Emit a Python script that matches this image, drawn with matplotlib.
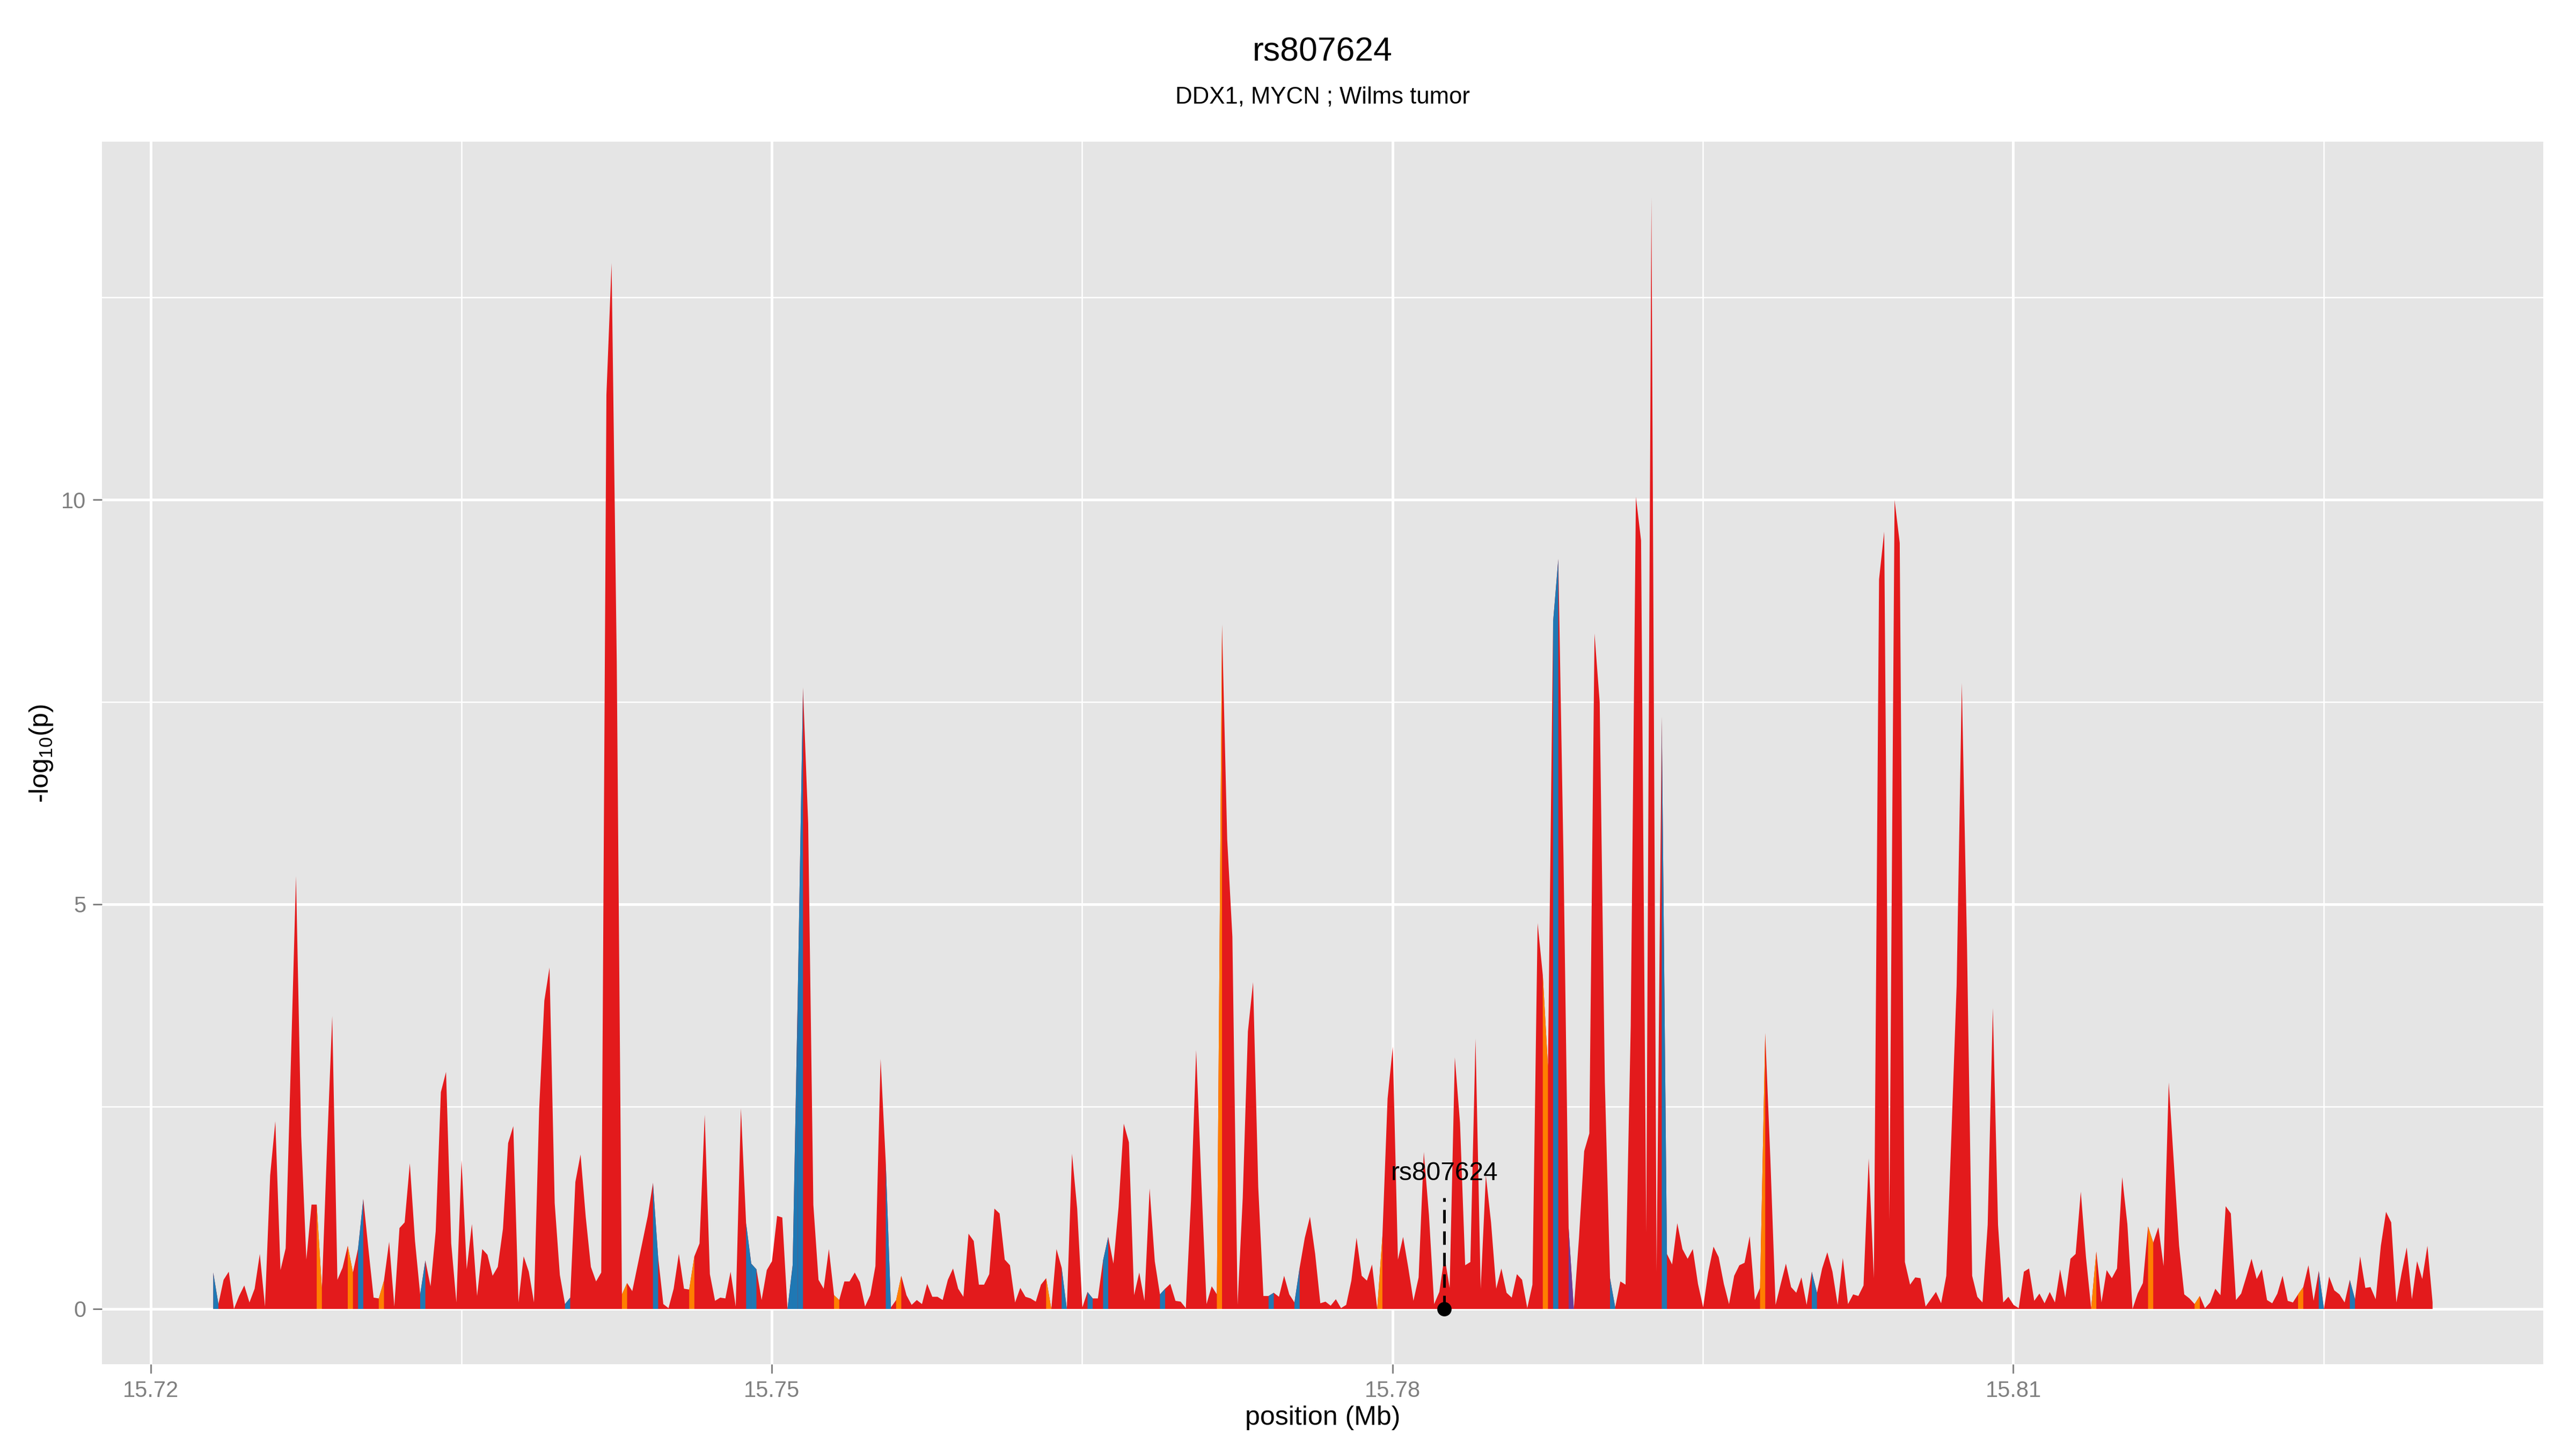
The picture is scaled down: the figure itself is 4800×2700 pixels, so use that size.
import numpy as np
import matplotlib
matplotlib.use("Agg")
import matplotlib.pyplot as plt

plt.rcParams['font.family'] = ['Liberation Sans', 'DejaVu Sans']
plt.rcParams['mathtext.fontset'] = 'custom'
plt.rcParams['mathtext.rm'] = 'Liberation Sans'

# SNPs sit on a regular 250 bp grid from 15,723,000 to 15,830,250
snp_start_bp = 15723000
snp_step_bp = 250
neg_log_p = [
    0.45, 0.06, 0.36, 0.46, 0.00, 0.16, 0.29, 0.08, 0.25, 0.68,
    0.03, 1.65, 2.32, 0.48, 0.75, 3.04, 5.35, 2.14, 0.61, 1.29,
    1.29, 0.25, 2.00, 3.62, 0.36, 0.51, 0.78, 0.45, 0.75, 1.36,
    0.74, 0.14, 0.13, 0.35, 0.83, 0.03, 1.00, 1.07, 1.80, 0.84,
    0.18, 0.60, 0.28, 0.96, 2.68, 2.93, 0.81, 0.08, 1.84, 0.49,
    1.05, 0.16, 0.74, 0.67, 0.41, 0.52, 0.99, 2.05, 2.26, 0.08,
    0.65, 0.46, 0.08, 2.47, 3.81, 4.22, 1.31, 0.42, 0.06, 0.14,
    1.57, 1.91, 1.14, 0.52, 0.34, 0.45, 11.30, 12.93, 8.00, 0.18,
    0.32, 0.22, 0.53, 0.84, 1.15, 1.56, 0.64, 0.06, 0.01, 0.25,
    0.68, 0.25, 0.24, 0.65, 0.81, 2.40, 0.43, 0.10, 0.14, 0.13,
    0.46, 0.03, 2.48, 1.06, 0.56, 0.49, 0.11, 0.48, 0.59, 1.15,
    1.13, 0.00, 0.54, 3.93, 7.68, 6.00, 1.29, 0.36, 0.25, 0.74,
    0.17, 0.11, 0.34, 0.34, 0.45, 0.33, 0.03, 0.17, 0.53, 3.09,
    1.81, 0.02, 0.11, 0.41, 0.17, 0.05, 0.11, 0.06, 0.31, 0.15,
    0.15, 0.11, 0.36, 0.50, 0.25, 0.15, 0.93, 0.84, 0.30, 0.30,
    0.43, 1.24, 1.18, 0.61, 0.54, 0.08, 0.26, 0.15, 0.13, 0.09,
    0.30, 0.38, 0.00, 0.74, 0.51, 0.00, 1.92, 1.24, 0.02, 0.21,
    0.13, 0.13, 0.60, 0.89, 0.56, 1.26, 2.29, 2.06, 0.17, 0.45,
    0.10, 1.49, 0.59, 0.18, 0.25, 0.31, 0.10, 0.09, 0.01, 1.34,
    3.20, 1.57, 0.06, 0.28, 0.18, 8.46, 5.80, 4.60, 0.05, 1.37,
    3.43, 4.04, 1.51, 0.16, 0.16, 0.20, 0.15, 0.41, 0.18, 0.08,
    0.51, 0.88, 1.14, 0.68, 0.07, 0.09, 0.04, 0.12, 0.01, 0.05,
    0.35, 0.88, 0.41, 0.35, 0.55, 0.00, 0.90, 2.60, 3.24, 0.61,
    0.89, 0.51, 0.10, 0.39, 1.94, 1.16, 0.06, 0.21, 0.65, 0.26,
    3.11, 2.30, 0.54, 0.58, 3.34, 0.25, 1.65, 1.07, 0.25, 0.50,
    0.20, 0.14, 0.43, 0.36, 0.01, 0.30, 4.77, 4.13, 3.00, 8.50,
    9.27, 5.60, 1.00, 0.00, 0.88, 1.95, 2.17, 8.35, 7.50, 2.80,
    0.38, 0.02, 0.34, 0.30, 3.50, 10.04, 9.50, 0.94, 13.74, 0.46,
    7.32, 0.68, 0.55, 1.06, 0.74, 0.62, 0.74, 0.31, 0.02, 0.46,
    0.77, 0.64, 0.31, 0.06, 0.41, 0.54, 0.57, 0.90, 0.11, 0.26,
    3.41, 1.84, 0.05, 0.31, 0.56, 0.27, 0.20, 0.39, 0.05, 0.46,
    0.20, 0.50, 0.70, 0.46, 0.05, 0.63, 0.06, 0.18, 0.16, 0.29,
    1.86, 0.38, 9.02, 9.61, 1.10, 10.00, 9.47, 0.58, 0.30, 0.39,
    0.38, 0.03, 0.12, 0.21, 0.07, 0.41, 2.17, 4.00, 7.74, 4.50,
    0.41, 0.15, 0.08, 1.04, 3.72, 1.04, 0.08, 0.15, 0.05, 0.01,
    0.46, 0.50, 0.10, 0.19, 0.07, 0.21, 0.08, 0.49, 0.14, 0.62,
    0.68, 1.45, 0.64, 0.01, 0.71, 0.08, 0.48, 0.38, 0.50, 1.63,
    1.05, 0.00, 0.19, 0.32, 1.02, 0.82, 1.01, 0.53, 2.80, 1.79,
    0.78, 0.18, 0.13, 0.06, 0.16, 0.01, 0.08, 0.25, 0.17, 1.27,
    1.18, 0.11, 0.19, 0.40, 0.62, 0.37, 0.49, 0.11, 0.07, 0.19,
    0.41, 0.10, 0.08, 0.18, 0.27, 0.54, 0.10, 0.47, 0.00, 0.40,
    0.23, 0.18, 0.08, 0.36, 0.12, 0.65, 0.26, 0.27, 0.12, 0.78,
    1.20, 1.07, 0.08, 0.44, 0.76, 0.12, 0.59, 0.37, 0.78, 0.08,
]

# segments (snp i -> snp i+1) that are not drawn in the default red
blue_segments = [0, 28, 40, 68, 85, 103, 104, 111, 112, 113, 130, 164, 169, 172,
                 183, 204, 209, 259, 270, 280, 309, 407, 413]
orange_segments = [20, 26, 32, 79, 92, 120, 132, 161, 194, 225, 257, 299, 363,
                   374, 383, 403]
purple_segments = [262]

lead_snp = 'rs807624'
lead_index = 238
title = 'rs807624'
subtitle = 'DDX1, MYCN ; Wilms tumor'
x_ticks = [15.72, 15.75, 15.78, 15.81]
y_ticks = [0, 5, 10]

RED = '#E31A1C'
BLUE = '#1F78B4'
ORANGE = '#FF7F00'
PURPLE = '#6A3D9A'
GREY = '#7F7F7F'

y = np.array(neg_log_p)
pos = (snp_start_bp + snp_step_bp * np.arange(len(y))) / 1e6

fig = plt.figure(figsize=(16, 9), dpi=300)
ax = fig.add_axes([0.0396, 0.0585, 0.9477, 0.8437])
ax.set_facecolor('#E5E5E5')
for s in ax.spines.values():
    s.set_visible(False)

# grid (ggplot2 grey theme)
for v in [15.735, 15.765, 15.795, 15.825]:
    ax.axvline(v, color='white', lw=0.6, zorder=0)
for v in [2.5, 7.5, 12.5]:
    ax.axhline(v, color='white', lw=0.6, zorder=0)
for v in x_ticks:
    ax.axvline(v, color='white', lw=1.2, zorder=0)
for v in y_ticks:
    ax.axhline(v, color='white', lw=1.2, zorder=0)

ax.fill_between(pos, y, 0, color=RED, lw=0, zorder=2)
for segs, col in [(blue_segments, BLUE), (orange_segments, ORANGE), (purple_segments, PURPLE)]:
    for i in segs:
        ax.fill_between(pos[i:i + 2], y[i:i + 2], 0, color=col, lw=0, zorder=3)

# lead SNP marker
lx = pos[lead_index]
ax.plot([lx, lx], [0, 1.37], color='black', lw=1.2, ls=(0, (5, 3)), zorder=4)
ax.plot([lx], [0], 'o', color='black', ms=5.4, zorder=5)
ax.text(lx, 1.59, lead_snp, ha='center', va='baseline', fontsize=11.5, zorder=6)

span = pos[-1] - pos[0]
ax.set_xlim(pos[0] - 0.05 * span, pos[-1] + 0.05 * span)
ax.set_ylim(-0.05 * y.max(), 1.05 * y.max())
ax.set_xticks(x_ticks)
ax.set_xticklabels(['%.2f' % v for v in x_ticks])
ax.set_yticks(y_ticks)
ax.tick_params(colors=GREY, labelcolor=GREY, labelsize=10, length=4.1, width=0.7, pad=3)

fig.text(0.5134, 0.964, title, ha='center', va='center', fontsize=15)
fig.text(0.5134, 0.933, subtitle, ha='center', va='center', fontsize=10.5)
fig.text(0.5134, 0.0215, 'position (Mb)', ha='center', va='center', fontsize=12)
fig.text(0.016, 0.48, r'-log$_{\mathregular{10}}$(p)', ha='center', va='center',
         rotation=90, fontsize=12)

fig.savefig('out.png', dpi=300)
